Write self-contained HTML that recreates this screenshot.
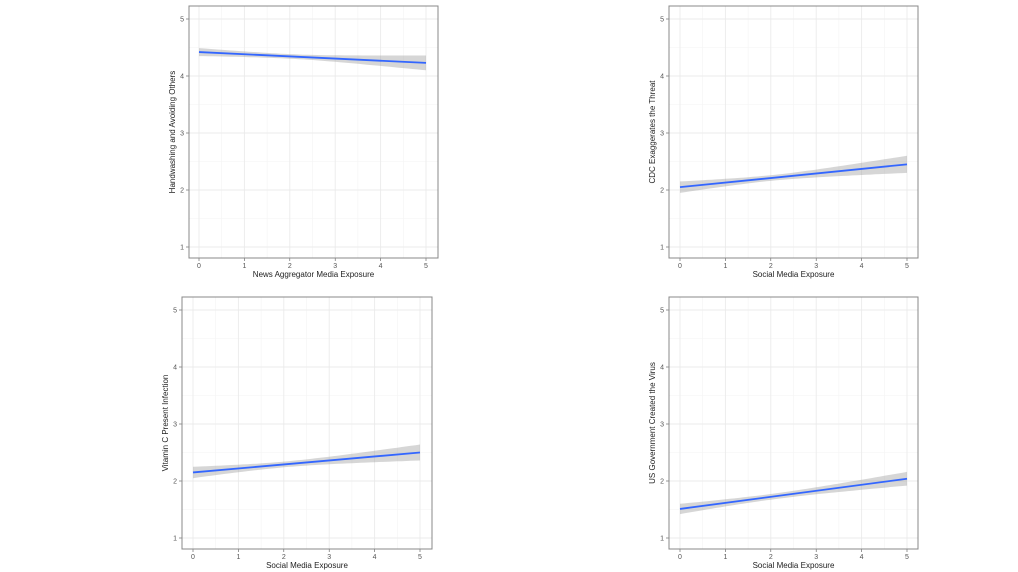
<!DOCTYPE html>
<html><head><meta charset="utf-8"><style>
body{margin:0;background:#fff;width:1018px;height:572px;overflow:hidden}
svg{position:absolute;left:0;top:0}
text{font-family:"Liberation Sans",sans-serif}
</style></head><body>
<svg id="s" width="1018" height="572" xmlns="http://www.w3.org/2000/svg"></svg>
<script>
const P=[
 {bx:189,bw:249,by:6,bh:252,x0:199,x5:426,y5:19,y1:247,l:[4.42,4.23],w:[0.07,0.04,0.13],xl:"News Aggregator Media Exposure",yl:"Handwashing and Avoiding Others"},
 {bx:669,bw:249,by:6,bh:252,x0:680,x5:907,y5:19,y1:247,l:[2.05,2.45],w:[0.1,0.05,0.15],xl:"Social Media Exposure",yl:"CDC Exaggerates the Threat"},
 {bx:182,bw:250,by:297,bh:252,x0:193,x5:420,y5:310,y1:538,l:[2.15,2.50],w:[0.1,0.05,0.14],xl:"Social Media Exposure",yl:"Vitamin C Present Infection"},
 {bx:669,bw:249,by:297,bh:252,x0:680,x5:907,y5:310,y1:538,l:[1.51,2.04],w:[0.09,0.05,0.12],xl:"Social Media Exposure",yl:"US Government Created the Virus"}];
let h="";
for(const p of P){
 const X=v=>p.x0+(p.x5-p.x0)*v/5, Y=v=>p.y1+(p.y5-p.y1)*(v-1)/4;
 h+=`<rect x="${p.bx}" y="${p.by}" width="${p.bw}" height="${p.bh}" fill="#fff"/>`;
 for(let v=0.5;v<5;v+=1){h+=`<line x1="${X(v)}" x2="${X(v)}" y1="${p.by}" y2="${p.by+p.bh}" stroke="#f4f4f4" stroke-width="0.6"/>`;}
 for(let v=1.5;v<5;v+=1){h+=`<line y1="${Y(v)}" y2="${Y(v)}" x1="${p.bx}" x2="${p.bx+p.bw}" stroke="#f4f4f4" stroke-width="0.6"/>`;}
 for(let v=0;v<=5;v++){h+=`<line x1="${X(v)}" x2="${X(v)}" y1="${p.by}" y2="${p.by+p.bh}" stroke="#ebebeb" stroke-width="0.9"/>`;
  h+=`<line x1="${X(v)}" x2="${X(v)}" y1="${p.by+p.bh}" y2="${p.by+p.bh+3}" stroke="#555" stroke-width="0.6"/>`;
  h+=`<text x="${X(v)}" y="${p.by+p.bh+10}" font-size="7" fill="#555" text-anchor="middle">${v}</text>`;}
 for(let v=1;v<=5;v++){h+=`<line y1="${Y(v)}" y2="${Y(v)}" x1="${p.bx}" x2="${p.bx+p.bw}" stroke="#ebebeb" stroke-width="0.9"/>`;
  h+=`<line y1="${Y(v)}" y2="${Y(v)}" x1="${p.bx-3}" x2="${p.bx}" stroke="#555" stroke-width="0.6"/>`;
  h+=`<text x="${p.bx-5}" y="${Y(v)+2.5}" font-size="7" fill="#555" text-anchor="end">${v}</text>`;}
 const m=v=>p.l[0]+(p.l[1]-p.l[0])*v/5;
 const xm=2,wm=p.w[1];const a0=(p.w[0]**2-wm**2)/(xm**2),a5=(p.w[2]**2-wm**2)/((5-xm)**2);
 const w=v=>Math.sqrt(wm*wm+(v<xm?a0:a5)*(v-xm)**2);
 let up=[],dn=[];for(let i=0;i<=50;i++){const v=i/10;up.push(`${X(v).toFixed(1)},${Y(m(v)+w(v)).toFixed(1)}`);dn.unshift(`${X(v).toFixed(1)},${Y(m(v)-w(v)).toFixed(1)}`);}
 h+=`<polygon points="${up.concat(dn).join(" ")}" fill="#999" fill-opacity="0.4"/>`;
 h+=`<line x1="${X(0)}" y1="${Y(m(0))}" x2="${X(5)}" y2="${Y(m(5))}" stroke="#3366ff" stroke-width="1.8"/>`;
 h+=`<rect x="${p.bx}" y="${p.by}" width="${p.bw}" height="${p.bh}" fill="none" stroke="#888" stroke-width="1"/>`;
 h+=`<text x="${(p.bx+p.bx+p.bw)/2}" y="${p.by+p.bh+19}" font-size="8" fill="#222" text-anchor="middle">${p.xl}</text>`;
 const cy=p.by+p.bh/2,cx=p.bx-14;
 h+=`<text x="${cx}" y="${cy}" font-size="8" fill="#222" text-anchor="middle" transform="rotate(-90 ${cx} ${cy})">${p.yl}</text>`;
}
document.getElementById("s").innerHTML=h;
</script>
</body></html>
